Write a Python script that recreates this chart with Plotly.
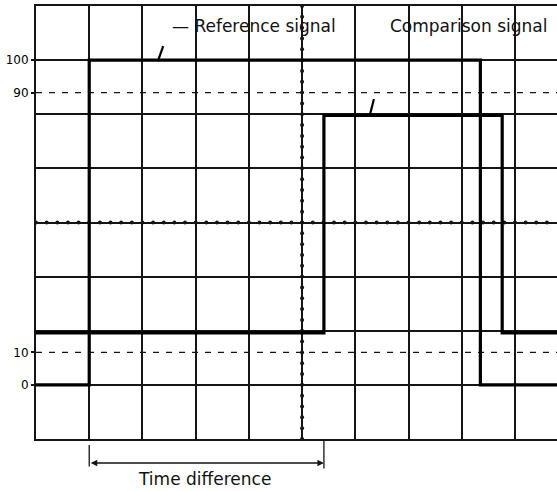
"""Oscilloscope screen: reference vs comparison signal, time difference."""

import plotly.graph_objects as go

# graticule in divisions (x) and percent of amplitude (y)
DIV = 100 / 6            # one vertical division in percent
X_MAX = 9.79             # picture is cut off just before the 10th division

# signals, x in divisions, y in percent
ref_x = [0, 1, 1, 8.35, 8.35, X_MAX]
ref_y = [0, 0, 100, 100, 0, 0]
comp_x = [0, 5.41, 5.41, 8.76, 8.76, X_MAX]
comp_y = [16, 16, 83, 83, 16, 16]

# y tick labels
tick_vals = [0, 10, 90, 100]
tick_text = ["0", "10", "90", "100"]

# dashed reference levels
level_lines = [10, 90]

# time difference bracket
td_start = 1
td_end = 5.41

INK = "#151515"
PLOT_H = 491 - 6 - 52


def paper_y(py):
    """Pixel row below the plot -> paper y."""
    return (439 - py) / PLOT_H


fig = go.Figure()

# dashed 10 % and 90 % levels
for lv in level_lines:
    fig.add_trace(go.Scatter(
        x=[0, X_MAX], y=[lv, lv], mode="lines",
        line=dict(color=INK, width=1.4, dash="6px,7px"),
        hoverinfo="skip", showlegend=False
    ))

# dotted centre lines (minor ticks every 0.2 division)
cx = [i * 0.2 for i in range(int(X_MAX / 0.2) + 1)]
fig.add_trace(go.Scatter(
    x=cx, y=[50] * len(cx), mode="markers",
    marker=dict(color=INK, size=4), hoverinfo="skip", showlegend=False
))
cy = [-DIV + i * DIV / 5 for i in range(41)]
fig.add_trace(go.Scatter(
    x=[5] * len(cy), y=cy, mode="markers",
    marker=dict(color=INK, size=4), hoverinfo="skip", showlegend=False
))

# signals
fig.add_trace(go.Scatter(
    x=ref_x, y=ref_y, mode="lines", name="Reference signal",
    line=dict(color="#000", width=3.2), showlegend=False
))
fig.add_trace(go.Scatter(
    x=comp_x, y=comp_y, mode="lines", name="Comparison signal",
    line=dict(color="#000", width=3.2), showlegend=False
))

# leader strokes from labels to the traces
fig.add_trace(go.Scatter(
    x=[2.29, 2.39], y=[99.7, 104.3], mode="lines",
    line=dict(color="#000", width=2.2), hoverinfo="skip", showlegend=False
))
fig.add_trace(go.Scatter(
    x=[6.28, 6.35], y=[83.5, 88], mode="lines",
    line=dict(color="#000", width=2.2), hoverinfo="skip", showlegend=False
))

font = dict(family="DejaVu Sans, Arial, sans-serif", size=17, color="#111")

annotations = [
    dict(x=4.1, y=110.5, xref="x", yref="y", text="— Reference signal",
         showarrow=False, font=font),
    dict(x=8.13, y=110.5, xref="x", yref="y", text="Comparison signal",
         showarrow=False, font=font),
    dict(x=3.16, y=paper_y(479), xref="x", yref="paper", yanchor="middle",
         text="Time difference", showarrow=False, font=font),
    # double-headed arrow
    dict(x=td_end, y=paper_y(463), xref="x", yref="paper",
         ax=td_start, ay=0, axref="x", ayref="pixel",
         text="", showarrow=True, arrowside="end+start",
         arrowhead=2, arrowsize=1, arrowwidth=1.3, arrowcolor=INK),
    # bracket legs
    dict(x=td_start, y=paper_y(445), xref="x", yref="paper",
         ax=0, ay=23, text="", showarrow=True, arrowhead=0,
         arrowwidth=1.3, arrowcolor=INK, standoff=0, startstandoff=0),
    dict(x=td_end, y=paper_y(439), xref="x", yref="paper",
         ax=0, ay=31, text="", showarrow=True, arrowhead=0,
         arrowwidth=1.3, arrowcolor=INK, standoff=0, startstandoff=0),
]

fig.update_layout(
    width=557, height=491,
    margin=dict(l=36, r=0, t=6, b=52),
    paper_bgcolor="white", plot_bgcolor="white",
    annotations=annotations,
    xaxis=dict(
        range=[0, X_MAX], tick0=0, dtick=1, automargin=False,
        showgrid=True, gridcolor=INK, gridwidth=1.5,
        zeroline=False, showticklabels=False, ticks="",
        showline=True, linecolor=INK, linewidth=1.8, mirror=True
    ),
    yaxis=dict(
        range=[-DIV, 100 + DIV], tick0=0, dtick=DIV, automargin=False,
        showgrid=True, gridcolor=INK, gridwidth=1.5,
        zeroline=False, showticklabels=False, ticks="",
        showline=True, linecolor=INK, linewidth=1.8
    ),
    yaxis2=dict(
        range=[-DIV, 100 + DIV], overlaying="y", side="left",
        automargin=False,
        tickvals=tick_vals, ticktext=tick_text,
        ticks="outside", ticklen=4, tickcolor=INK, tickwidth=1.5,
        showgrid=False, zeroline=False, showline=False,
        tickfont=dict(family="DejaVu Sans, Arial, sans-serif",
                      size=12, color="#000")
    ),
)

# invisible trace so the label axis is rendered
fig.add_trace(go.Scatter(x=[0], y=[0], yaxis="y2", mode="markers",
                         marker=dict(opacity=0), hoverinfo="skip",
                         showlegend=False))

# drop the page's default body margin so the figure sits at the window origin
fig.write_html("out.html", config={"displayModeBar": False},
               post_script="document.body.style.margin='0';")
